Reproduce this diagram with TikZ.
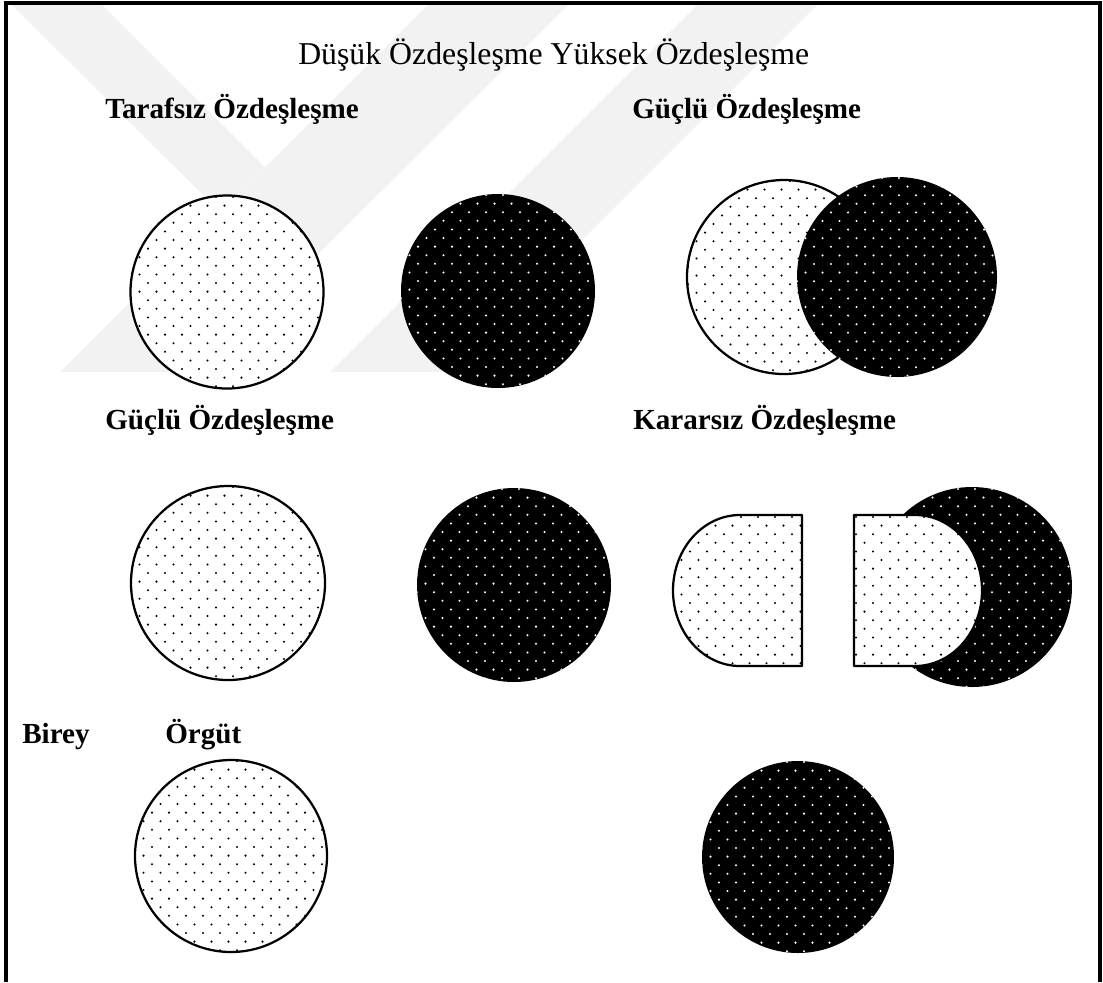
\documentclass[tikz,border=0pt]{standalone}
\usepackage{fontspec}
\setmainfont{Liberation Serif}

% nokta deseni: sol ust kose, sutun sayisi, satir sayisi, renk
\newcommand{\noktalar}[5]{%
  \foreach \j in {0,...,#4}{%
    \foreach \i in {0,...,#3}{%
      \fill[#5] ({#1+17*\i+8.5*mod(\j,2)},{#2+8.6*\j}) circle (1.15);
    }%
  }%
}

\begin{document}
\begin{tikzpicture}[x=0.025cm, y=-0.025cm, line join=round]

% Stiller
\tikzset{
    baslikyazi/.style={
        anchor=base west,
        inner sep=0pt,
        font=\fontsize{22.6}{27}\selectfont
    },
    etiketyazi/.style={
        anchor=base west,
        inner sep=0pt,
        font=\fontsize{20.7}{25}\selectfont\bfseries
    },
    cizgi/.style={draw=black, line width=1.6pt},
    filigran/.style={fill=black!5}
}

\useasboundingbox (0,0) rectangle (1103,982);

% =============================================
% FILIGRAN (arka plan)
% =============================================
\fill[filigran] (60,372) -- (200,372) -- (570,3) -- (430,3) -- cycle;
\fill[filigran] (10,3) -- (220,212) -- (265,167) -- (100,3) -- cycle;
\fill[filigran] (330,372) -- (450,372) -- (819,3) -- (699,3) -- cycle;

% Cerceve (alt kenar yok)
\draw[line width=2.2pt, line join=miter] (6,982) -- (6,3) -- (1100,3) -- (1100,982);

% =============================================
% BASLIKLAR
% =============================================
\node[baslikyazi] (baslik) at (298,64) {Düşük Özdeşleşme Yüksek Özdeşleşme};
\node[etiketyazi] (tarafsiz) at (105,118) {Tarafsız Özdeşleşme};
\node[etiketyazi] (guclu) at (632,118) {Güçlü Özdeşleşme};
\node[etiketyazi] (guclualt) at (105,429) {Güçlü Özdeşleşme};
\node[etiketyazi] (kararsiz) at (633,429) {Kararsız Özdeşleşme};
\node[etiketyazi] (birey) at (22,743) {Birey};
\node[etiketyazi] (orgut) at (165,743) {Örgüt};

% =============================================
% TARAFSIZ OZDESLESME: ayri daireler
% =============================================
\begin{scope}
    \clip (227,292) circle (96.5);
    \fill[white] (130,195) rectangle (324,389);
    \noktalar{131}{197}{11}{23}{black}
\end{scope}
\draw[cizgi] (227,292) circle (96.5);

\begin{scope}
    \clip (498,291) circle (97);
    \fill[black] (400,193) rectangle (596,389);
    \noktalar{401}{195}{11}{23}{white}
\end{scope}

% =============================================
% GUCLU OZDESLESME (ust): kesisen daireler
% =============================================
\begin{scope}
    \clip (784,277) circle (97);
    \fill[white] (686,179) rectangle (882,375);
    \noktalar{688}{181}{11}{23}{black}
\end{scope}
\draw[cizgi] (784,277) circle (97);

\begin{scope}
    \clip (897,277) circle (100);
    \fill[black] (796,176) rectangle (998,378);
    \noktalar{797}{178}{12}{24}{white}
\end{scope}

% =============================================
% GUCLU OZDESLESME (orta): ayri daireler
% =============================================
\begin{scope}
    \clip (228,583) circle (97);
    \fill[white] (130,485) rectangle (326,681);
    \noktalar{131}{487}{11}{23}{black}
\end{scope}
\draw[cizgi] (228,583) circle (97);

\begin{scope}
    \clip (514,585) circle (97);
    \fill[black] (416,487) rectangle (612,683);
    \noktalar{417}{489}{11}{23}{white}
\end{scope}

% =============================================
% KARARSIZ OZDESLESME
% =============================================
% sol yarim sekil
\begin{scope}
    \clip (802,515) -- (740,515) arc[start angle=270, end angle=90, x radius=67, y radius=75.5] -- (802,666) -- cycle;
    \fill[white] (672,514) rectangle (803,667);
    \noktalar{673}{517}{8}{18}{black}
\end{scope}
\draw[cizgi] (802,515) -- (740,515) arc[start angle=270, end angle=90, x radius=67, y radius=75.5] -- (802,666) -- cycle;

% sag daire (arkada)
\begin{scope}
    \clip (972,587) circle (100);
    \fill[black] (871,486) rectangle (1073,688);
    \noktalar{873}{489}{12}{23}{white}
\end{scope}

% sag yarim sekil (onde)
\begin{scope}
    \clip (854,515) -- (915,515) arc[start angle=270, end angle=450, x radius=67, y radius=75.5] -- (854,666) -- cycle;
    \fill[white] (853,514) rectangle (983,667);
    \noktalar{856}{517}{8}{18}{black}
\end{scope}
\draw[cizgi] (854,515) -- (915,515) arc[start angle=270, end angle=450, x radius=67, y radius=75.5] -- (854,666) -- cycle;

% =============================================
% BIREY / ORGUT
% =============================================
\begin{scope}
    \clip (231,856) circle (96);
    \fill[white] (134,759) rectangle (328,953);
    \noktalar{135}{761}{11}{23}{black}
\end{scope}
\draw[cizgi] (231,856) circle (96);

\begin{scope}
    \clip (798,857) circle (96);
    \fill[black] (701,760) rectangle (895,954);
    \noktalar{702}{762}{11}{23}{white}
\end{scope}

\end{tikzpicture}
\end{document}
